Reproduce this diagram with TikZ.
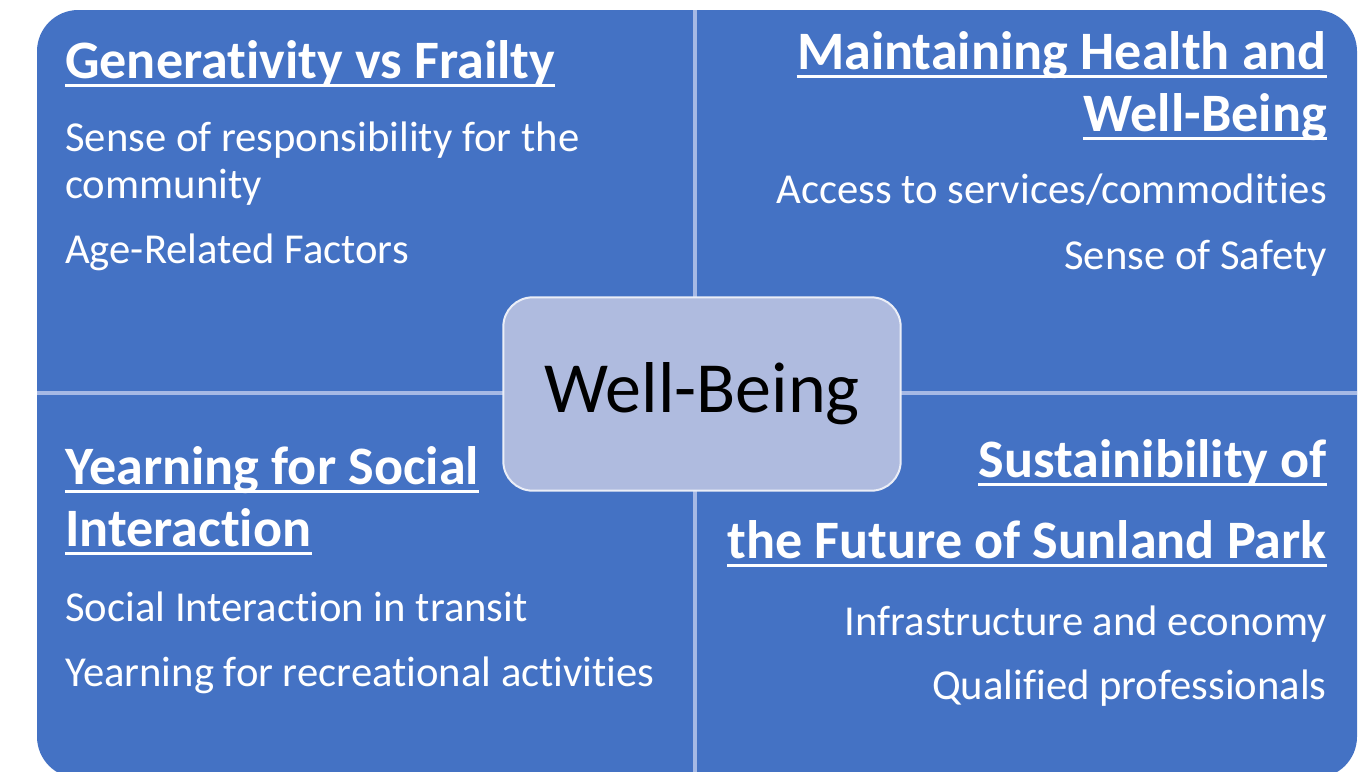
\documentclass[tikz,border=0pt]{standalone}
\usepackage{fontspec}
\setmainfont{Carlito}[Ligatures=NoCommon]
\usepackage{tikz}
\usetikzlibrary{positioning}
\definecolor{quadblue}{HTML}{4472C4}
\definecolor{hubfill}{HTML}{AFBBDF}
\definecolor{seam}{HTML}{A6B9E5}
\tikzset{
  heading/.style={inner sep=0pt, text=white,
    font=\fontsize{40.6}{49}\selectfont\bfseries},
  item/.style={inner sep=0pt, text=white,
    font=\fontsize{32}{38}\selectfont},
  hub/.style={draw=white!75!hubfill, line width=1.5pt, fill=hubfill,
    rounded corners=22pt, minimum width=298pt, minimum height=145pt,
    font=\fontsize{54}{64}\selectfont},
  underline/.style={white, line width=2.2pt}
}

\begin{document}
\begin{tikzpicture}[
% one unit is one pixel of the 1367x771 frame, y grows downwards
x=0.75pt, y=-0.75pt]

\useasboundingbox (0,0) rectangle (1367,771);
\begin{scope}
\clip (0,0) rectangle (1367,771);
\fill[quadblue, rounded corners=31pt] (37,10) rectangle (1357,778);
\draw[seam, line width=3pt] (695,10) -- (695,778);
\draw[seam, line width=3pt] (37,393) -- (1357,393);
\end{scope}

% top left
\node[heading, anchor=base west] (gen) at (65,78) {Generativity vs Frailty};
\node[item, anchor=base west] (resp) at (65,151) {Sense of responsibility for the};
\node[item, anchor=base west] (comm) at (65,198) {community};
\node[item, anchor=base west] (age) at (65,263) {Age-Related Factors};

% top right
\node[heading, anchor=base east] (maint) at (1327,69) {Maintaining Health and};
\node[heading, anchor=base east] (wellb) at (1327,131) {Well-Being};
\node[item, anchor=base east] (access) at (1327,203) {Access to services/commodities};
\node[item, anchor=base east] (safety) at (1327,269) {Sense of Safety};

% bottom left
\node[heading, anchor=base west] (yearn) at (65,484) {Yearning for Social};
\node[heading, anchor=base west] (inter) at (65,546) {Interaction};
\node[item, anchor=base west] (transit) at (65,621) {Social Interaction in transit};
\node[item, anchor=base west] (recr) at (65,686) {Yearning for recreational activities};

% bottom right
\node[heading, anchor=base east] (sustain) at (1327,477) {Sustainibility of};
\node[heading, anchor=base east] (future) at (1327,558) {the Future of Sunland Park};
\node[item, anchor=base east] (infra) at (1327,635) {Infrastructure and economy};
\node[item, anchor=base east] (prof) at (1327,699) {Qualified professionals};

\foreach \h in {gen,maint,wellb,yearn,inter,sustain,future} {
  \draw[underline] ([yshift=-5.5pt]\h.base west) -- ([yshift=-5.5pt]\h.base east);
}

\node[hub] (core) at (702,394) {Well-Being};
\end{tikzpicture}
\end{document}
